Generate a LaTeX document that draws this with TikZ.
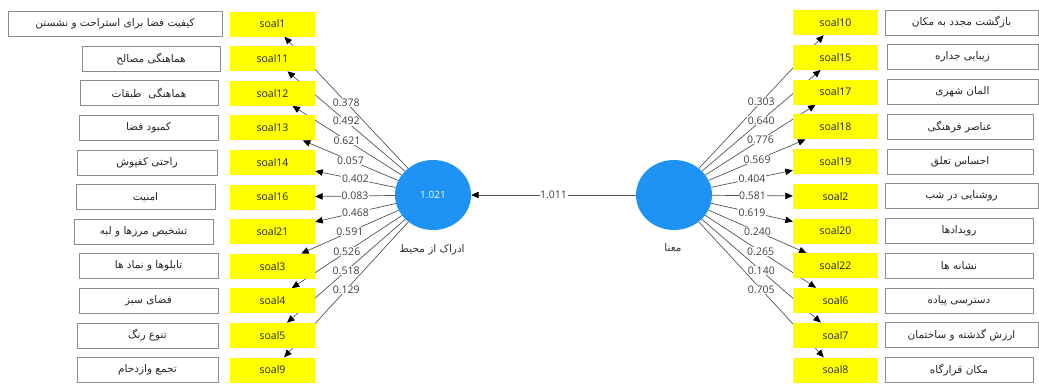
\documentclass[tikz,border=0pt]{standalone}
\usepackage{fontspec}
\setmainfont{Open Sans}
\newfontfamily\fa[Script=Arabic]{DejaVu Sans}
\TeXXeTstate=1
\usetikzlibrary{shapes.geometric,arrows.meta}
\definecolor{ind}{RGB}{255,255,0}
\definecolor{lv}{RGB}{30,146,245}
\definecolor{ln}{RGB}{85,85,85}
\definecolor{bx}{RGB}{140,140,140}
\pgfdeclarelayer{bg}
\pgfsetlayers{bg,main}
\tikzset{
 ybox/.style={fill=ind, minimum width=85pt, minimum height=25pt, inner sep=0pt, text=black!85, font=\fontsize{10.5}{12}\selectfont},
 wbox/.style={draw=bx, line width=0.8pt, fill=white, minimum height=25pt, inner sep=0pt, text=black!85, font=\fa\fontsize{10.5}{12}\selectfont},
 lvar/.style={ellipse, fill=lv, minimum width=76pt, minimum height=70pt, inner sep=0pt, text=white, font=\fontsize{10}{12}\selectfont},
 lvlabel/.style={inner sep=0pt, font=\fa\fontsize{10.5}{12}\selectfont, text=black!80},
 load/.style={draw=ln, line width=0.7pt, -{Triangle[length=7.5pt,width=6.5pt,color=black]}},
 wt/.style={fill=white, inner sep=0.6pt, text=black!75, font=\fontsize{10.5}{12}\selectfont},
}
\begin{document}
\begin{tikzpicture}[x=1pt,y=-1pt]
\useasboundingbox (0,0) rectangle (1039,383);
% latent variables
\node[lvar] (c1) at (433,195) {1.021};
\node[lvar] (c2) at (674,195) {};
\node[lvlabel] (c1t) at (432,250) {\beginR ادراک از محیط\endR};
\node[lvlabel] (c2t) at (673,248) {\beginR معنا\endR};
\begin{pgfonlayer}{bg}
\draw[load] (c2) -- node[wt] (w0) {1.011} (c1);
\end{pgfonlayer}
% left indicators
\foreach \n/\t/\l/\r/\w [count=\i from 0] in {
 1/{کیفیت فضا برای استراحت و نشستن}/8/222/0.378,
 11/{هماهنگی مصالح}/82/220/0.492,
 12/{هماهنگی~~طبقات}/80/218/0.621,
 13/{کمبود فضا}/79/218/0.057,
 14/{راحتی کفپوش}/77/217/0.402,
 16/{امنیت}/76/215/0.083,
 21/{تشخیص مرزها و لبه}/74/213/0.468,
 3/{تابلوها و نماد ها}/79/218/0.591,
 4/{فضای سبز}/79/218/0.526,
 5/{تنوع رنگ}/77/218/0.518,
 9/{تجمع وازدحام}/77/218/0.129}{
 \pgfmathsetmacro\yy{24+34.6*\i}
 \pgfmathsetmacro\xc{(\l+\r)/2}
 \pgfmathsetmacro\ww{\r-\l}
 \node[ybox] (L\n) at (272.5,\yy) {soal\n};
 \node[wbox, minimum width=\ww pt] (LT\n) at (\xc,\yy) {\beginR \t\endR};
 \begin{pgfonlayer}{bg}
 \draw[load] (c1) -- node[wt] (LW\n) {\w} (L\n);
 \end{pgfonlayer}
}
% right indicators
\foreach \n/\t/\l/\r/\w [count=\i from 0] in {
 10/{بازگشت مجدد به مکان}/885/1038/0.303,
 15/{زیبایی جداره}/887/1038/0.640,
 17/{المان شهری}/887/1038/0.776,
 18/{عناصر فرهنگی}/887/1033/0.569,
 19/{احساس تعلق}/887/1033/0.404,
 2/{روشنایی در شب}/885/1038/0.581,
 20/{رویدادها}/885/1033/0.619,
 22/{نشانه ها}/885/1033/0.240,
 6/{دسترسی پیاده}/885/1033/0.265,
 7/{ارزش گذشته و ساختمان}/885/1038/0.140,
 8/{مکان قرارگاه}/885/1033/0.705}{
 \pgfmathsetmacro\yy{22.5+34.75*\i}
 \pgfmathsetmacro\xc{(\l+\r)/2}
 \pgfmathsetmacro\ww{\r-\l}
 \node[ybox] (R\n) at (835.5,\yy) {soal\n};
 \node[wbox, minimum width=\ww pt] (RT\n) at (\xc,\yy) {\beginR \t\endR};
 \begin{pgfonlayer}{bg}
 \draw[load] (c2) -- node[wt] (RW\n) {\w} (R\n);
 \end{pgfonlayer}
}
\end{tikzpicture}
\end{document}
